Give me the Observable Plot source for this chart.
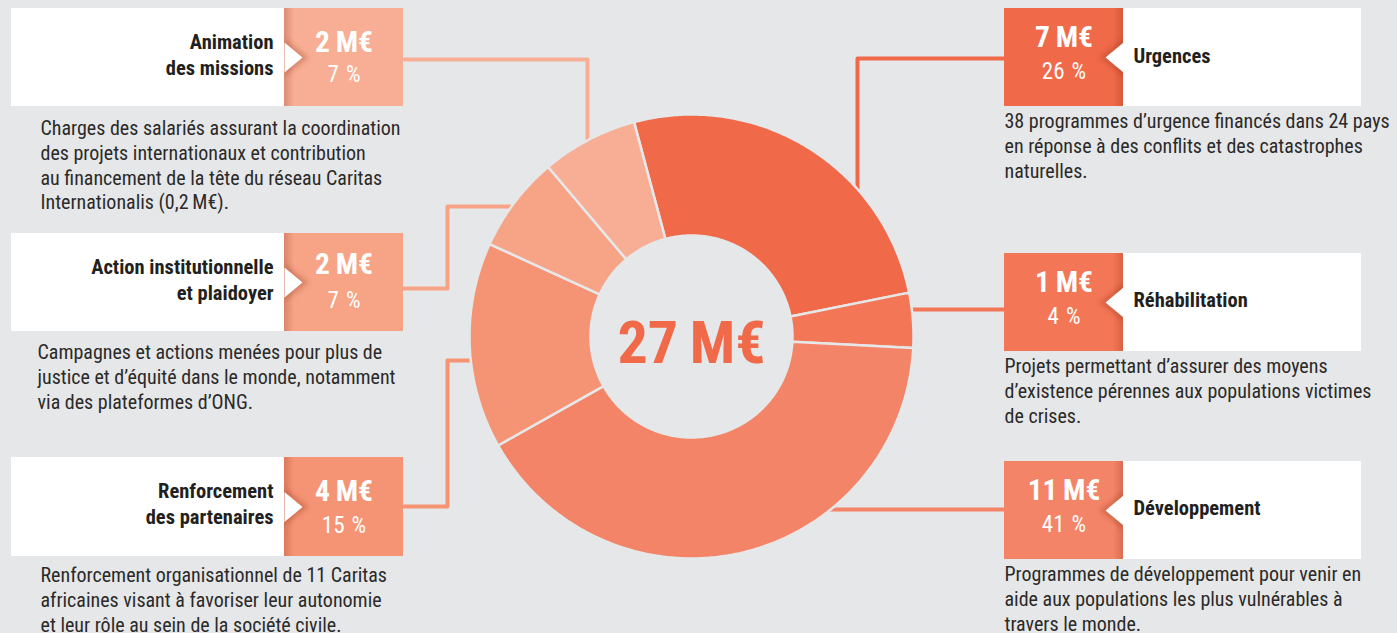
<!DOCTYPE html>
<html><head><meta charset="utf-8">
<script src="https://cdn.jsdelivr.net/npm/d3@7"></script>
<script src="https://cdn.jsdelivr.net/npm/@observablehq/plot@0.6"></script>
<style>html,body{margin:0;padding:0;background:#e6e7e8;overflow:hidden}</style>
</head><body><div id="chart"></div>
<script>
const W = 1397, H = 633;
const bg = "#e6e7e8";
const FONT = '"Liberation Sans Narrow","Arial Narrow","Roboto Condensed","Liberation Sans",sans-serif';

// ---- data ----
const categories = ["Urgences", "Réhabilitation", "Développement", "Renforcement des partenaires", "Action institutionnelle et plaidoyer", "Animation des missions"];
const amounts = [7, 1, 11, 4, 2, 2];          // M€
const shares = [26, 4, 41, 15, 7, 7];         // %
const total = 27;                              // M€
const colors = ["#f06949", "#f37656", "#f48467", "#f59475", "#f6a386", "#f8ae94"];
const labelLines = ["Urgences", "Réhabilitation", "Développement", "Renforcement\ndes partenaires", "Action institutionnelle\net plaidoyer", "Animation\ndes missions"];
const descriptions = [
  "38 programmes d’urgence financés dans 24 pays\nen réponse à des conflits et des catastrophes\nnaturelles.",
  "Projets permettant d’assurer des moyens\nd’existence pérennes aux populations victimes\nde crises.",
  "Programmes de développement pour venir en\naide aux populations les plus vulnérables à\ntravers le monde.",
  "Renforcement organisationnel de 11 Caritas\nafricaines visant à favoriser leur autonomie\net leur rôle au sein de la société civile.",
  "Campagnes et actions menées pour plus de\njustice et d’équité dans le monde, notamment\nvia des plateformes d’ONG.",
  "Charges des salariés assurant la coordination\ndes projets internationaux et contribution\nau financement de la tête du réseau Caritas\nInternationalis (0,2\u2009M€)."
];

// ---- layout (pixels) ----
const CX = 691, CY = 336, R0 = 101, R1 = 222, START = -15 * Math.PI / 180;
const layout = [
  {side: "right", y1: 8,   y2: 106, vb: 46,  pb: 78,  lb: 62,  db: 124, dx: 1004, path: [[1004, 58], [857, 58], [857, 200]]},
  {side: "right", y1: 253, y2: 351, vb: 291, pb: 323, lb: 306, db: 369, dx: 1004, path: [[1004, 309], [895, 309]]},
  {side: "right", y1: 461, y2: 559, vb: 499, pb: 531, lb: 514, db: 577, dx: 1004, path: [[1004, 509], [815, 509]]},
  {side: "left",  y1: 457, y2: 556, vb: 500, pb: 532, lb: 494, db: 578, dx: 40,   path: [[402, 506], [447, 506], [447, 360], [485, 360]]},
  {side: "left",  y1: 233, y2: 331, vb: 273, pb: 307, lb: 270, db: 355, dx: 37,   path: [[402, 288], [447, 288], [447, 206], [520, 206]]},
  {side: "left",  y1: 8,   y2: 106, vb: 51,  pb: 81,  lb: 45,  db: 131, dx: 40,   path: [[404, 59], [587, 59], [587, 150]]}
];
const LW = [11, 284, 403];     // left boxes: white x1, orange x1, orange x2
const RW = [1004, 1123, 1361]; // right boxes: orange x1, white x1, white x2

// ---- donut geometry from shares ----
const arcs = d3.pie().sort(null).value(d => d).startAngle(START).endAngle(START + 2 * Math.PI)(shares);
const slices = arcs.map((a, i) => {
  const n = Math.max(10, Math.ceil((a.endAngle - a.startAngle) / 0.01));
  const pts = [];
  for (let k = 0; k <= n; k++) { const t = a.startAngle + (a.endAngle - a.startAngle) * k / n; pts.push({x: CX + R1 * Math.sin(t), y: CY - R1 * Math.cos(t)}); }
  for (let k = n; k >= 0; k--) { const t = a.startAngle + (a.endAngle - a.startAngle) * k / n; pts.push({x: CX + R0 * Math.sin(t), y: CY - R0 * Math.cos(t)}); }
  return pts;
});

const rows = categories.map((c, i) => {
  const L = layout[i], left = L.side === "left";
  const ox1 = left ? LW[1] : RW[0], ox2 = left ? LW[2] : RW[1];
  const wx1 = left ? LW[0] : RW[1], wx2 = left ? LW[1] : RW[2];
  const ym = (L.y1 + L.y2) / 2;
  return {i, c, left, ...L, ox1, ox2, wx1, wx2, ym, oc: (ox1 + ox2) / 2,
    amount: `${amounts[i]}\u2009M€`, share: `${shares[i]}\u2004%`, label: labelLines[i], desc: descriptions[i], color: colors[i]};
});

const tri = rows.map(r => r.left
  ? [{x: r.ox1, y: r.ym - 15}, {x: r.ox1 + 18, y: r.ym}, {x: r.ox1, y: r.ym + 15}]
  : [{x: r.ox2, y: r.ym - 15}, {x: r.ox2 - 18, y: r.ym}, {x: r.ox2, y: r.ym + 15}]);
const triShadow = rows.map(r => r.left
  ? [{x: r.ox1, y: r.ym - 19}, {x: r.ox1 + 24, y: r.ym}, {x: r.ox1, y: r.ym + 19}]
  : [{x: r.ox2, y: r.ym - 19}, {x: r.ox2 - 24, y: r.ym}, {x: r.ox2, y: r.ym + 19}]);

const DESC = 20, LAB = 20.5, VAL = 29.5, PCT = 23;
const marks = [
  // connectors
  ...rows.map(r => Plot.line(r.path.map(([x, y]) => ({x, y})), {x: "x", y: "y", stroke: r.color, strokeWidth: 4})),
  // donut slices
  ...slices.map((pts, i) => Plot.line(pts, {x: "x", y: "y", fill: colors[i], stroke: bg, strokeWidth: 2.5, curve: "linear-closed"})),
  // boxes
  Plot.rect(rows, {x1: "ox1", x2: "ox2", y1: "y1", y2: "y2", fill: "color"}),
  Plot.rect(rows.filter(r => r.left), {x1: "ox1", x2: d => d.ox1 + 10, y1: "y1", y2: "y2", fill: "url(#shL)"}),
  Plot.rect(rows.filter(r => !r.left), {x1: d => d.ox2 - 10, x2: "ox2", y1: "y1", y2: "y2", fill: "url(#shR)"}),
  ...triShadow.map(t => Plot.line(t, {x: "x", y: "y", fill: "#8a2a10", fillOpacity: 0.28, curve: "linear-closed", imageFilter: "blur(2.5px)"})),
  Plot.rect(rows, {x1: "wx1", x2: "wx2", y1: "y1", y2: "y2", fill: "white"}),
  ...tri.map(t => Plot.line(t, {x: "x", y: "y", fill: "white", curve: "linear-closed"})),
  // box texts
  Plot.text(rows, {x: "oc", y: d => d.vb - 0.71 * VAL, text: "amount", lineAnchor: "top", fontSize: VAL, fontWeight: "bold", fill: "white", fontFamily: FONT}),
  Plot.text(rows, {x: "oc", y: d => d.pb - 0.71 * PCT, text: "share", lineAnchor: "top", fontSize: PCT, fill: "white", fontFamily: FONT}),
  Plot.text(rows.filter(r => r.left), {x: 273, y: d => d.lb - 0.71 * LAB, text: "label", lineAnchor: "top", textAnchor: "end", lineHeight: 25.5 / LAB, fontSize: LAB, fontWeight: "bold", fill: "#231f20", fontFamily: FONT}),
  Plot.text(rows.filter(r => !r.left), {x: 1133, y: d => d.lb - 0.71 * LAB, text: "label", lineAnchor: "top", textAnchor: "start", fontSize: LAB, fontWeight: "bold", fill: "#231f20", fontFamily: FONT}),
  // descriptions
  Plot.text(rows, {x: "dx", y: d => d.db - 0.71 * DESC, text: "desc", lineAnchor: "top", textAnchor: "start", lineHeight: 24.8 / DESC, fontSize: DESC, fill: "#2b2a29", fontFamily: FONT}),
  // centre total
  Plot.text([total], {x: CX, y: 362 - 0.71 * 60, text: d => `${d}\u2009M€`, lineAnchor: "top", fontSize: 60, fontWeight: "bold", fill: colors[0], fontFamily: FONT})
];

const svg = Plot.plot({
  width: W, height: H, margin: 0,
  x: {type: "linear", domain: [0, W], range: [0, W], axis: null},
  y: {type: "linear", domain: [0, H], range: [0, H], axis: null},
  style: {background: bg, fontFamily: FONT},
  marks
});
const defs = d3.select(svg).insert("defs", ":first-child");
const gL = defs.append("linearGradient").attr("id", "shL").attr("x1", 0).attr("x2", 1).attr("y1", 0).attr("y2", 0);
gL.append("stop").attr("offset", 0).attr("stop-color", "#8a2a10").attr("stop-opacity", 0.25);
gL.append("stop").attr("offset", 1).attr("stop-color", "#8a2a10").attr("stop-opacity", 0);
const gR = defs.append("linearGradient").attr("id", "shR").attr("x1", 0).attr("x2", 1).attr("y1", 0).attr("y2", 0);
gR.append("stop").attr("offset", 0).attr("stop-color", "#8a2a10").attr("stop-opacity", 0);
gR.append("stop").attr("offset", 1).attr("stop-color", "#8a2a10").attr("stop-opacity", 0.25);
document.getElementById("chart").appendChild(svg);
</script></body></html>
